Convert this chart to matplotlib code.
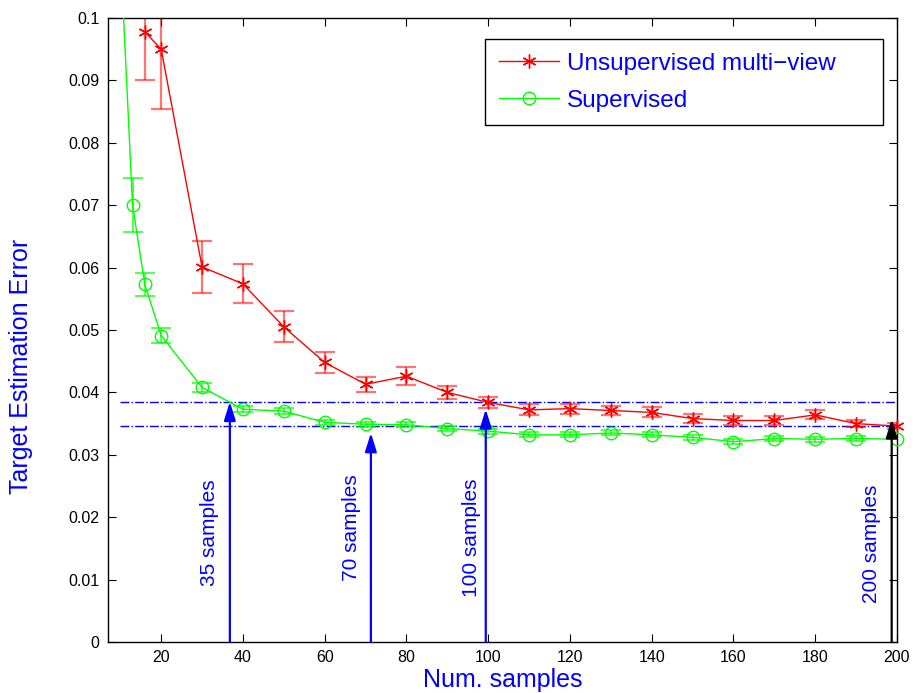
import numpy as np
import matplotlib.pyplot as plt

plt.rcParams['font.family'] = ['Liberation Sans', 'DejaVu Sans']

# Unsupervised multi-view (red)
x_unsup = [16, 20, 30, 40, 50, 60, 70, 80, 90, 100, 110, 120, 130, 140, 150, 160, 170, 180, 190, 200]
err_unsup = [0.0978, 0.0950, 0.0601, 0.0574, 0.0505, 0.0448, 0.0413, 0.0426, 0.0400, 0.0384,
             0.0372, 0.0374, 0.0371, 0.0368, 0.0358, 0.0355, 0.0355, 0.0364, 0.0350, 0.0346]
std_unsup = [0.0078, 0.0096, 0.0041, 0.0031, 0.0025, 0.0017, 0.0012, 0.0014, 0.0010, 0.0009,
             0.0009, 0.0008, 0.0008, 0.0008, 0.0007, 0.0007, 0.0007, 0.0007, 0.0006, 0.0005]

# Supervised (green)
x_sup = [10, 13, 16, 20, 30, 40, 50, 60, 70, 80, 90, 100, 110, 120, 130, 140, 150, 160, 170, 180, 190, 200]
err_sup = [0.111, 0.0700, 0.0573, 0.0491, 0.0408, 0.0373, 0.0370, 0.0352, 0.0349, 0.0348, 0.0342,
           0.0338, 0.0332, 0.0332, 0.0335, 0.0332, 0.0328, 0.0321, 0.0326, 0.0325, 0.0326, 0.0325]
std_sup = [0.005, 0.0043, 0.0019, 0.0012, 0.0007, 0.0005, 0.0005, 0.0004, 0.0004, 0.0004, 0.0004,
           0.0004, 0.0004, 0.0004, 0.0004, 0.0004, 0.0004, 0.0004, 0.0004, 0.0004, 0.0004, 0.0]

# reference levels and annotations
ref_levels = [0.0384, 0.0346]
arrow_x = [36.8, 71.3, 99.4, 198.7]
arrow_tip = [0.0385, 0.0335, 0.0373, 0.0357]
arrow_colors = ['blue', 'blue', 'blue', 'black']
ann_labels = ['35 samples', '70 samples', '100 samples', '200 samples']
ann_x = [31.9, 66.6, 95.9, 193.8]
ann_y = [0.0175, 0.0183, 0.0167, 0.0157]

xticks = list(range(20, 201, 20))
yticks = [0, 0.01, 0.02, 0.03, 0.04, 0.05, 0.06, 0.07, 0.08, 0.09, 0.1]
ytick_labels = ['0', '0.01', '0.02', '0.03', '0.04', '0.05', '0.06', '0.07', '0.08', '0.09', '0.1']
ymax = 0.1

fig = plt.figure(figsize=(9.14, 6.93), dpi=100)
ax = fig.add_axes([0.1182, 0.0736, 0.8632, 0.9004])

# error bars
ax.errorbar(x_unsup, err_unsup, yerr=std_unsup, fmt='none', ecolor=(1, 0, 0, 0.55),
            elinewidth=1.6, capsize=7.5, capthick=1.6, zorder=2)
ax.errorbar(x_sup, err_sup, yerr=std_sup, fmt='none', ecolor=(0, 1, 0, 0.8),
            elinewidth=1.2, capsize=7.5, capthick=1.2, zorder=2)

ax.plot(x_unsup, err_unsup, color='red', linewidth=1, zorder=3)
ax.plot(x_sup, err_sup, color='#00ff00', linewidth=1, zorder=3)

# markers are not clipped at the axes edge (MATLAB style)
xu = [x for x, y in zip(x_unsup, err_unsup) if y <= ymax]
yu = [y for y in err_unsup if y <= ymax]
xs = [x for x, y in zip(x_sup, err_sup) if y <= ymax]
ys = [y for y in err_sup if y <= ymax]
ax.plot(xu, yu, linestyle='none', color='red', marker=(6, 2, 0), markersize=10,
        clip_on=False, zorder=3)
ax.plot(xs, ys, linestyle='none', color='#00ff00', marker='o', markersize=9,
        markerfacecolor='none', clip_on=False, zorder=3)

# legend proxies
ax.plot([], [], color='red', marker=(6, 2, 0), markersize=10, linewidth=1,
        label='Unsupervised multi\u2212view')
ax.plot([], [], color='#00ff00', marker='o', markersize=9, markerfacecolor='none',
        linewidth=1, label='Supervised')

for lvl in ref_levels:
    ax.plot([10, 200], [lvl, lvl], color='blue', linestyle='-.', linewidth=1, zorder=1)

for xa, ya, c in zip(arrow_x, arrow_tip, arrow_colors):
    ax.annotate('', xy=(xa, ya), xytext=(xa, 0),
                arrowprops=dict(arrowstyle='-|>,head_length=0.8,head_width=0.25',
                                color=c, lw=1.6, shrinkA=0, shrinkB=0, mutation_scale=14),
                zorder=4)

for xt, yt, s in zip(ann_x, ann_y, ann_labels):
    ax.text(xt, yt, s, rotation=90, color='blue', fontsize=15, ha='center', va='center')

ax.set_xlim(7, 200)
ax.set_ylim(0, ymax)
ax.set_xticks(xticks)
ax.set_yticks(yticks)
ax.set_yticklabels(ytick_labels)
ax.tick_params(direction='in', length=5.5, width=0.8, labelsize=11.5, top=True, right=True,
               pad=6)
for sp in ax.spines.values():
    sp.set_linewidth(1)

ax.set_xlabel('Num. samples', fontsize=18, color='blue', labelpad=2)
ax.set_ylabel('Target Estimation Error', fontsize=18, color='blue')
ax.yaxis.set_label_coords(-0.095, 0.442)

leg = ax.legend(loc='upper left', bbox_to_anchor=(0.478, 0.0, 0.504, 0.966), mode='expand',
                fontsize=17.5, fancybox=False, edgecolor='black', framealpha=1,
                handlelength=2.5, handletextpad=0.3, labelspacing=0.62, borderpad=0.55,
                borderaxespad=0)
leg.get_frame().set_linewidth(1)
for t in leg.get_texts():
    t.set_color('blue')

fig.savefig('out.png', dpi=100)
